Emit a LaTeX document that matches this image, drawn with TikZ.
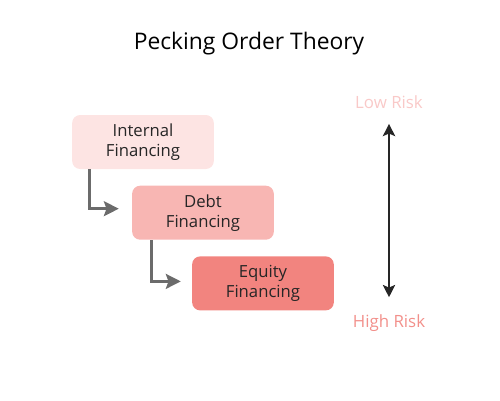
\documentclass[tikz,border=0pt]{standalone}
\usepackage{fontspec}
\setmainfont{Open Sans}
\usepackage{tikz}
\usetikzlibrary{arrows.meta, positioning}
\usepackage{xcolor}

\begin{document}
\begin{tikzpicture}[x=0.02cm, y=-0.02cm]
  \definecolor{internalcol}{HTML}{FDE4E3}
  \definecolor{debtcol}{HTML}{F8B6B3}
  \definecolor{equitycol}{HTML}{F2847F}
  \definecolor{lowcol}{HTML}{F9C9C8}
  \definecolor{highcol}{HTML}{F2908B}
  \definecolor{stepgray}{HTML}{6B6B6B}
  \tikzset{
    finbox/.style={rectangle, rounded corners=0.16cm,
      minimum width=2.76cm, minimum height=1.08cm,
      text centered, text width=2.6cm,
      font=\fontsize{9.5}{11.4}\selectfont, text=black!85,
      draw=none, fill=#1},
    finbox/.default=white,
    risklabel/.style={font=\fontsize{9.6}{11}\selectfont, text=#1, inner sep=0pt},
    steparr/.style={-{Stealth[length=8.5pt, width=8.5pt, inset=1.5pt]}, line width=1.5pt, color=stepgray},
    riskarr/.style={{Stealth[length=7pt, width=7pt, inset=1.5pt]}-{Stealth[length=7pt, width=7pt, inset=1.5pt]}, line width=1.1pt, color=black!85}
  }
  \useasboundingbox (0,0) rectangle (500,400);
  \node[font=\fontsize{13}{15}\selectfont] (title) at (249,44) {Pecking Order Theory};
  \node[finbox=internalcol] (internal) at (143,142) {Internal\\Financing};
  \node[finbox=debtcol, below=0.32cm of internal, xshift=1.2cm] (debt) {Debt\\Financing};
  \node[finbox=equitycol, below=0.32cm of debt, xshift=1.2cm] (equity) {Equity\\Financing};
  \node[risklabel=lowcol] (low) at (389,102) {Low Risk};
  \node[risklabel=highcol] (high) at (389,323) {High Risk};
  \draw[steparr] ([xshift=0.36cm]internal.south west) |- ([xshift=-0.26cm, yshift=0.08cm]debt.west);
  \draw[steparr] ([xshift=0.4cm]debt.south west) |- ([xshift=-0.22cm, yshift=0.04cm]equity.west);
  \draw[riskarr, shorten <=0.3cm, shorten >=0.34cm] (low.south) -- (high.north);
\end{tikzpicture}
\end{document}
